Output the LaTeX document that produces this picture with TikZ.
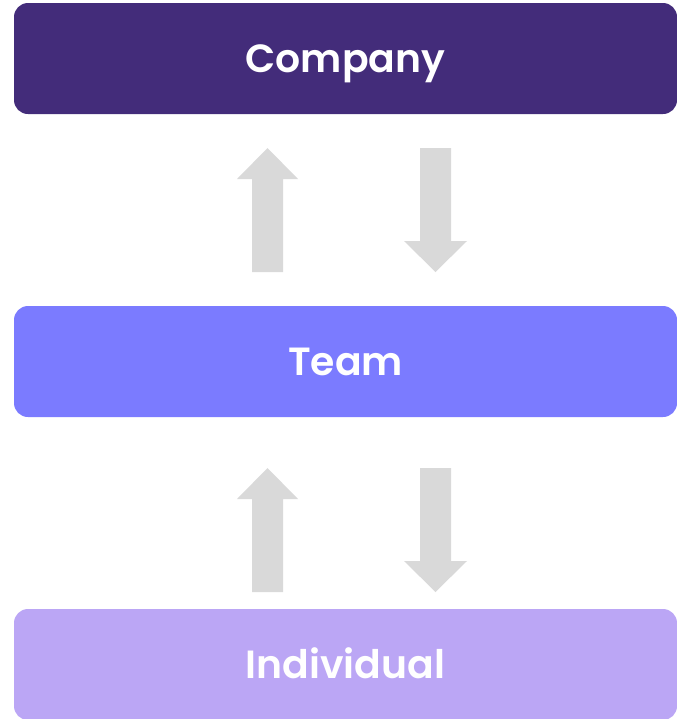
\documentclass[tikz,border=0pt]{standalone}
\usepackage{fontspec}
\setmainfont{Poppins}[BoldFont={Poppins SemiBold}]
\definecolor{companyc}{HTML}{432C7A}
\definecolor{teamc}{HTML}{7B7BFF}
\definecolor{indivc}{HTML}{BBA6F5}
\definecolor{arrowc}{HTML}{D9D9D9}
\tikzset{
  level/.style={rounded corners=10.5pt, minimum width=663*0.75pt, minimum height=111*0.75pt,
    inner sep=0pt, text height=20.6pt, text depth=0pt, text=white,
    font=\fontsize{29.5}{34}\selectfont\bfseries},
  blockarrow/.style={fill=arrowc, draw=none},
}
\begin{document}
\begin{tikzpicture}[x=0.75pt, y=-0.75pt]
  \useasboundingbox (0,0) rectangle (677,719);
  \begin{scope}
    \clip (0,0) rectangle (677,719);
    \node[level, fill=companyc] (company) at (345.5,58.5) {Company};
    \node[level, fill=teamc] (team) at (345.5,361.5) {Team};
    \node[level, fill=indivc] (individual) at (345.5,664.5) {Individual};
  \end{scope}
  % upward and downward block arrows between the levels
  \foreach \dy in {0,320} {
    \begin{scope}[yshift=-\dy*0.75pt]
      \fill[blockarrow] (252,272) -- (252,179) -- (237,179) -- (267.5,148)
        -- (298,179) -- (283,179) -- (283,272) -- cycle;
      \fill[blockarrow] (420,148) -- (420,241) -- (404,241) -- (435.5,272)
        -- (467,241) -- (451,241) -- (451,148) -- cycle;
    \end{scope}
  }
\end{tikzpicture}
\end{document}
